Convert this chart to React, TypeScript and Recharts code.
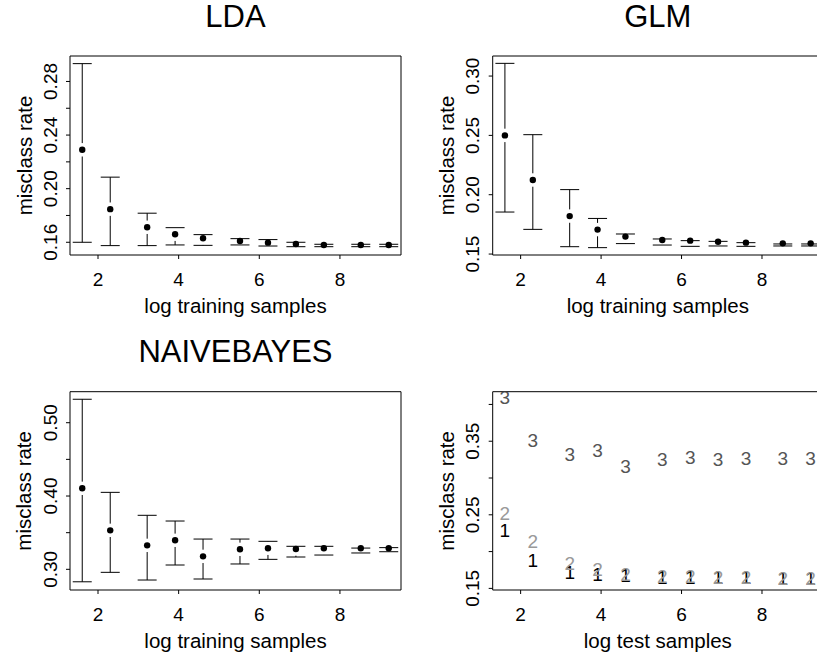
import React from 'react';
import { ScatterChart, Scatter, XAxis, YAxis, ErrorBar, ReferenceArea } from 'recharts';

// log of sample sizes (5, 10, 25, 50, 100, 250, 500, 1000, 2000, 5000, 10000)
const logSamples = [1.609, 2.303, 3.219, 3.912, 4.605, 5.521, 6.215, 6.908, 7.601, 8.517, 9.21];

const ldaMean = [0.229, 0.1847, 0.1712, 0.166, 0.163, 0.161, 0.1597, 0.1587, 0.158, 0.158, 0.158];
const ldaUpper = [0.2933, 0.2086, 0.1817, 0.1709, 0.1657, 0.1627, 0.162, 0.16, 0.1585, 0.1585, 0.1585];
const ldaLower = [0.16, 0.1575, 0.1575, 0.158, 0.1577, 0.158, 0.1572, 0.1567, 0.1567, 0.1567, 0.1567];

const glmMean = [0.25, 0.2124, 0.182, 0.1706, 0.1647, 0.1618, 0.1613, 0.1604, 0.1596, 0.159, 0.159];
const glmUpper = [0.3107, 0.2506, 0.2043, 0.18, 0.1669, 0.1627, 0.1613, 0.1607, 0.1596, 0.1585, 0.1585];
const glmLower = [0.1854, 0.1708, 0.1562, 0.1554, 0.1588, 0.1576, 0.1565, 0.1568, 0.1565, 0.1568, 0.1568];

const nbMean = [0.4105, 0.3532, 0.3327, 0.3396, 0.3177, 0.3273, 0.3287, 0.3277, 0.3287, 0.3287, 0.3287];
const nbUpper = [0.532, 0.405, 0.3737, 0.3659, 0.3413, 0.3413, 0.3382, 0.3314, 0.3314, 0.329, 0.3296];
const nbLower = [0.283, 0.2959, 0.2854, 0.3059, 0.2868, 0.3073, 0.3136, 0.3168, 0.3195, 0.3223, 0.324];

// bottom-right panel: misclassification vs log test samples, by method (1 = LDA, 2 = GLM, 3 = NAIVEBAYES)
const testOne = [0.2286, 0.1877, 0.1717, 0.1685, 0.1672, 0.1653, 0.165, 0.1645, 0.1645, 0.164, 0.164];
const testTwo = [0.2514, 0.2136, 0.184, 0.175, 0.1695, 0.1658, 0.1655, 0.165, 0.165, 0.164, 0.164];
const testThree = [0.409, 0.3514, 0.3318, 0.3368, 0.3159, 0.3254, 0.3273, 0.325, 0.3259, 0.3259, 0.3268];

const xTicks = [2, 4, 6, 8];
const ldaTicks = [0.16, 0.18, 0.2, 0.22, 0.24, 0.26, 0.28];
const ldaLabels = [0.16, 0.2, 0.24, 0.28];
const glmTicks = [0.15, 0.2, 0.25, 0.3];
const glmLabels = [0.15, 0.2, 0.25, 0.3];
const nbTicks = [0.3, 0.35, 0.4, 0.45, 0.5];
const nbLabels = [0.3, 0.4, 0.5];
const testTicks = [0.15, 0.2, 0.25, 0.3, 0.35, 0.4];
const testLabels = [0.15, 0.25, 0.35];

const titles = ['LDA', 'GLM', 'NAIVEBAYES'];
const methodLabels = ['1', '2', '3'];

const FONT = '"Liberation Sans", Arial, Helvetica, sans-serif';
const TICK_FS = 19;
const LAB_FS = 20.5;
const TITLE_FS = 31;

const X_DOMAIN: [number, number] = [1.3054, 9.5143];
const PLOT_H = 199; // plot height in px, used to turn the point gap into data units
const GAP_PX = 6.7;

function pointRows(vals: number[]) {
  return logSamples.map((x, i) => ({ x, y: vals[i] }));
}
// vertical whisker from the upper limit down to just above the point
function upperSegRows(mean: number[], upper: number[], gap: number) {
  return logSamples.map((x, i) => ({ x, y: upper[i], err: [Math.max(0, upper[i] - (mean[i] + gap)), 0] }));
}
// vertical whisker from the lower limit up to just below the point
function lowerSegRows(mean: number[], lower: number[], gap: number) {
  return logSamples.map((x, i) => ({ x, y: lower[i], err: [0, Math.max(0, mean[i] - gap - lower[i])] }));
}

const DotShape = (props: any) => {
  const { cx, cy } = props;
  if (cx == null || cy == null) return <g />;
  return <circle cx={cx} cy={cy} r={3.2} fill="#000" />;
};

const CapShape = (props: any) => {
  const { cx, cy } = props;
  if (cx == null || cy == null) return <g />;
  return <line x1={cx - 9.5} x2={cx + 9.5} y1={cy} y2={cy} stroke="#000" strokeWidth={1} />;
};

const makeTextShape = (label: string, color: string) => (props: any) => {
  const { cx, cy } = props;
  if (cx == null || cy == null) return <g />;
  return (
    <text x={cx} y={cy} textAnchor="middle" dominantBaseline="central" fontSize={TICK_FS} fontFamily={FONT} fill={color}>
      {label}
    </text>
  );
};

const makeYTick = (labelled: number[]) => (props: any) => {
  const { x, y, payload } = props;
  const v = payload.value as number;
  if (!labelled.some((l) => Math.abs(l - v) < 1e-9)) return <g />;
  return (
    <text x={x} y={y} transform={`rotate(-90 ${x} ${y})`} textAnchor="middle" fontSize={TICK_FS} fontFamily={FONT} fill="#000">
      {v.toFixed(2)}
    </text>
  );
};

const XTick = (props: any) => {
  const { x, y, payload } = props;
  return (
    <text x={x} y={y} textAnchor="middle" fontSize={TICK_FS} fontFamily={FONT} fill="#000">
      {String(payload.value)}
    </text>
  );
};

const xTitle = (text: string) => (props: any) => {
  const vb = props.viewBox || {};
  return (
    <text x={vb.x + vb.width / 2} y={vb.y + 58.3} textAnchor="middle" fontSize={LAB_FS} fontFamily={FONT} fill="#000">
      {text}
    </text>
  );
};

const yTitle = (text: string) => (props: any) => {
  const vb = props.viewBox || {};
  const x = vb.x + vb.width - 38.5;
  const y = vb.y + vb.height / 2;
  return (
    <text x={x} y={y} transform={`rotate(-90 ${x} ${y})`} textAnchor="middle" fontSize={LAB_FS} fontFamily={FONT} fill="#000">
      {text}
    </text>
  );
};

type PanelProps = {
  left: number;
  top: number;
  width: number;
  height: number;
  marginTop: number;
  marginRight: number;
  yAxisWidth: number;
  xAxisHeight: number;
  yDomain: [number, number];
  yTicks: number[];
  yLabels: number[];
  xLabel: string;
  children: React.ReactNode;
};

function Panel(p: PanelProps) {
  return (
    <div style={{ position: 'absolute', left: p.left, top: p.top }}>
      <ScatterChart
        width={p.width}
        height={p.height}
        margin={{ top: p.marginTop, right: p.marginRight, bottom: 0, left: 0 }}
      >
        <XAxis
          type="number"
          dataKey="x"
          domain={X_DOMAIN}
          ticks={xTicks}
          interval={0}
          allowDataOverflow
          axisLine={false}
          tickLine={{ stroke: '#000' }}
          tickSize={4}
          tickMargin={27}
          tick={XTick}
          height={p.xAxisHeight}
          label={{ content: xTitle(p.xLabel) }}
        />
        <YAxis
          type="number"
          dataKey="y"
          domain={p.yDomain}
          ticks={p.yTicks}
          interval={0}
          allowDataOverflow
          axisLine={false}
          tickLine={{ stroke: '#000' }}
          tickSize={4}
          tickMargin={9.3}
          tick={makeYTick(p.yLabels)}
          width={p.yAxisWidth}
          label={{ content: yTitle('misclass rate') }}
        />
        <ReferenceArea
          x1={X_DOMAIN[0]}
          x2={X_DOMAIN[1]}
          y1={p.yDomain[0]}
          y2={p.yDomain[1]}
          fill="none"
          fillOpacity={0}
          stroke="#000"
          strokeWidth={1}
        />
        {p.children}
      </ScatterChart>
    </div>
  );
}

function ciSeries(mean: number[], upper: number[], lower: number[], yDomain: [number, number], key: string) {
  const gap = (GAP_PX / PLOT_H) * (yDomain[1] - yDomain[0]);
  return [
    <Scatter key={key + 'u'} data={upperSegRows(mean, upper, gap)} shape={CapShape} isAnimationActive={false}>
      <ErrorBar dataKey="err" direction="y" width={0} stroke="#000" strokeWidth={1} isAnimationActive={false} />
    </Scatter>,
    <Scatter key={key + 'l'} data={lowerSegRows(mean, lower, gap)} shape={CapShape} isAnimationActive={false}>
      <ErrorBar dataKey="err" direction="y" width={0} stroke="#000" strokeWidth={1} isAnimationActive={false} />
    </Scatter>,
    <Scatter key={key + 'm'} data={pointRows(mean)} shape={DotShape} isAnimationActive={false} />,
  ];
}

const ldaDomain: [number, number] = [0.1505, 0.299];
const glmDomain: [number, number] = [0.1492, 0.3169];
const nbDomain: [number, number] = [0.2718, 0.5423];
const testDomain: [number, number] = [0.1478, 0.4173];

export default function App() {
  return (
    <div
      style={{
        position: 'absolute',
        left: 0,
        top: 0,
        width: 817,
        height: 657,
        overflow: 'hidden',
        background: '#fff',
        fontFamily: FONT,
      }}
    >
      <Panel left={0} top={0} width={410} height={335} marginTop={56} marginRight={9} yAxisWidth={70} xAxisHeight={80}
        yDomain={ldaDomain} yTicks={ldaTicks} yLabels={ldaLabels} xLabel="log training samples">
        {ciSeries(ldaMean, ldaUpper, ldaLower, ldaDomain, 'lda')}
      </Panel>
      <Panel left={408} top={0} width={420} height={335} marginTop={56} marginRight={5.1} yAxisWidth={84.7} xAxisHeight={80}
        yDomain={glmDomain} yTicks={glmTicks} yLabels={glmLabels} xLabel="log training samples">
        {ciSeries(glmMean, glmUpper, glmLower, glmDomain, 'glm')}
      </Panel>
      <Panel left={0} top={336} width={410} height={335} marginTop={55.7} marginRight={9} yAxisWidth={70} xAxisHeight={81}
        yDomain={nbDomain} yTicks={nbTicks} yLabels={nbLabels} xLabel="log training samples">
        {ciSeries(nbMean, nbUpper, nbLower, nbDomain, 'nb')}
      </Panel>
      <Panel left={408} top={336} width={420} height={335} marginTop={55.7} marginRight={5.1} yAxisWidth={84.7} xAxisHeight={81}
        yDomain={testDomain} yTicks={testTicks} yLabels={testLabels} xLabel="log test samples">
        <Scatter data={pointRows(testOne)} shape={makeTextShape(methodLabels[0], '#000')} isAnimationActive={false} />
        <Scatter data={pointRows(testTwo)} shape={makeTextShape(methodLabels[1], '#999')} isAnimationActive={false} />
        <Scatter data={pointRows(testThree)} shape={makeTextShape(methodLabels[2], '#555')} isAnimationActive={false} />
      </Panel>
      <svg width={817} height={657} style={{ position: 'absolute', left: 0, top: 0, pointerEvents: 'none' }}>
        <text x={235.5} y={27} textAnchor="middle" fontSize={TITLE_FS} fontFamily={FONT} fill="#000">{titles[0]}</text>
        <text x={657.8} y={27} textAnchor="middle" fontSize={TITLE_FS} fontFamily={FONT} fill="#000">{titles[1]}</text>
        <text x={235.5} y={361.7} textAnchor="middle" fontSize={TITLE_FS} fontFamily={FONT} fill="#000">{titles[2]}</text>
      </svg>
    </div>
  );
}
